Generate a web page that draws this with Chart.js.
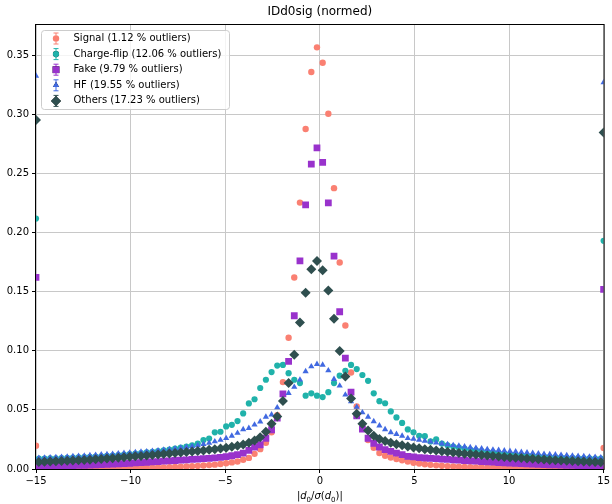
<!DOCTYPE html>
<html>
<head>
<meta charset="utf-8">
<title>IDd0sig (normed)</title>
<script src="https://cdn.jsdelivr.net/npm/chart.js@4.4.0/dist/chart.umd.min.js"></script>
<style>
    html, body { margin: 0; padding: 0; background: #fff; }
    #wrap { width: 612px; height: 504px; }
</style>
</head>
<body>
<div id="wrap"><canvas id="chartCanvas" width="612" height="504"></canvas></div>
<script>
// histogram bin centres (bin width 0.3 between -15 and 15)
const binCenters = [
    -14.85, -14.55, -14.25, -13.95, -13.65, -13.35, -13.05, -12.75, -12.45, -12.15,
    -11.85, -11.55, -11.25, -10.95, -10.65, -10.35, -10.05, -9.75, -9.45, -9.15,
    -8.85, -8.55, -8.25, -7.95, -7.65, -7.35, -7.05, -6.75, -6.45, -6.15,
    -5.85, -5.55, -5.25, -4.95, -4.65, -4.35, -4.05, -3.75, -3.45, -3.15,
    -2.85, -2.55, -2.25, -1.95, -1.65, -1.35, -1.05, -0.75, -0.45, -0.15,
    0.15, 0.45, 0.75, 1.05, 1.35, 1.65, 1.95, 2.25, 2.55, 2.85,
    3.15, 3.45, 3.75, 4.05, 4.35, 4.65, 4.95, 5.25, 5.55, 5.85,
    6.15, 6.45, 6.75, 7.05, 7.35, 7.65, 7.95, 8.25, 8.55, 8.85,
    9.15, 9.45, 9.75, 10.05, 10.35, 10.65, 10.95, 11.25, 11.55, 11.85,
    12.15, 12.45, 12.75, 13.05, 13.35, 13.65, 13.95, 14.25, 14.55, 14.85
];

// under/overflow points sit on the axis edges
const edgeX = [-15, 15];

const seriesNames = [
    'Signal (1.12 % outliers)',
    'Charge-flip (12.06 % outliers)',
    'Fake (9.79 % outliers)',
    'HF (19.55 % outliers)',
    'Others (17.23 % outliers)'
];

const signal = [
    0.0003, 0.0003, 0.0003, 0.0003, 0.0004, 0.0004, 0.0004, 0.0004, 0.0005, 0.0005,
    0.0005, 0.0006, 0.0006, 0.0006, 0.0007, 0.0007, 0.0008, 0.0009, 0.0010, 0.0011,
    0.0012, 0.0013, 0.0014, 0.0016, 0.0017, 0.0019, 0.0021, 0.0023, 0.0026, 0.0029,
    0.0033, 0.0037, 0.0042, 0.0049, 0.0056, 0.0064, 0.0078, 0.0094, 0.0128, 0.0168,
    0.0222, 0.0310, 0.0455, 0.0735, 0.1110, 0.1620, 0.2253, 0.2876, 0.3357, 0.3566,
    0.3436, 0.3005, 0.2375, 0.1746, 0.1214, 0.0816, 0.0530, 0.0345, 0.0245, 0.0180,
    0.0135, 0.0112, 0.0097, 0.0085, 0.0073, 0.0063, 0.0053, 0.0046, 0.0040, 0.0035,
    0.0031, 0.0027, 0.0024, 0.0021, 0.0019, 0.0017, 0.0015, 0.0014, 0.0013, 0.0012,
    0.0011, 0.0010, 0.0009, 0.0008, 0.0008, 0.0007, 0.0007, 0.0006, 0.0006, 0.0006,
    0.0005, 0.0005, 0.0005, 0.0004, 0.0004, 0.0004, 0.0004, 0.0003, 0.0003, 0.0003
];
const signalEdge = [0.0197, 0.0177];

const chargeFlip = [
    0.0088, 0.0089, 0.0090, 0.0091, 0.0093, 0.0094, 0.0096, 0.0098, 0.0100, 0.0102,
    0.0105, 0.0108, 0.0111, 0.0114, 0.0118, 0.0122, 0.0126, 0.0130, 0.0135, 0.0140,
    0.0146, 0.0152, 0.0158, 0.0165, 0.0172, 0.0180, 0.0190, 0.0200, 0.0215, 0.0245,
    0.0258, 0.0310, 0.0315, 0.0360, 0.0374, 0.0405, 0.0470, 0.0555, 0.0590, 0.0685,
    0.0755, 0.0820, 0.0875, 0.0880, 0.0810, 0.0755, 0.0727, 0.0620, 0.0640, 0.0620,
    0.0608, 0.0650, 0.0727, 0.0789, 0.0830, 0.0880, 0.0845, 0.0795, 0.0746, 0.0640,
    0.0574, 0.0556, 0.0487, 0.0436, 0.0390, 0.0335, 0.0310, 0.0281, 0.0278, 0.0233,
    0.0250, 0.0215, 0.0200, 0.0190, 0.0180, 0.0172, 0.0165, 0.0158, 0.0152, 0.0146,
    0.0140, 0.0135, 0.0130, 0.0126, 0.0122, 0.0118, 0.0114, 0.0111, 0.0108, 0.0105,
    0.0102, 0.0100, 0.0098, 0.0096, 0.0094, 0.0093, 0.0091, 0.0090, 0.0089, 0.0088
];
const chargeFlipEdge = [0.2118, 0.1930];

const fake = [
    0.0022, 0.0023, 0.0024, 0.0025, 0.0026, 0.0027, 0.0028, 0.0030, 0.0031, 0.0033,
    0.0035, 0.0037, 0.0039, 0.0041, 0.0043, 0.0046, 0.0048, 0.0051, 0.0054, 0.0057,
    0.0060, 0.0063, 0.0066, 0.0069, 0.0072, 0.0075, 0.0078, 0.0081, 0.0084, 0.0087,
    0.0090, 0.0094, 0.0098, 0.0105, 0.0112, 0.0121, 0.0135, 0.0157, 0.0186, 0.0205,
    0.0260, 0.0332, 0.0430, 0.0635, 0.0910, 0.1296, 0.1760, 0.2234, 0.2578, 0.2715,
    0.2594, 0.2250, 0.1800, 0.1330, 0.0938, 0.0650, 0.0450, 0.0338, 0.0260, 0.0217,
    0.0186, 0.0163, 0.0149, 0.0135, 0.0121, 0.0107, 0.0102, 0.0097, 0.0093, 0.0090,
    0.0087, 0.0084, 0.0081, 0.0078, 0.0075, 0.0072, 0.0069, 0.0066, 0.0063, 0.0060,
    0.0058, 0.0055, 0.0053, 0.0050, 0.0048, 0.0046, 0.0043, 0.0041, 0.0039, 0.0037,
    0.0035, 0.0034, 0.0032, 0.0031, 0.0030, 0.0029, 0.0028, 0.0027, 0.0026, 0.0025
];
const fakeEdge = [0.1620, 0.1520];

const hf = [
    0.0093, 0.0095, 0.0097, 0.0099, 0.0101, 0.0103, 0.0106, 0.0109, 0.0112, 0.0115,
    0.0118, 0.0121, 0.0124, 0.0127, 0.0131, 0.0134, 0.0137, 0.0140, 0.0144, 0.0148,
    0.0152, 0.0156, 0.0161, 0.0166, 0.0172, 0.0178, 0.0185, 0.0192, 0.0200, 0.0210,
    0.0220, 0.0232, 0.0245, 0.0260, 0.0280, 0.0304, 0.0335, 0.0346, 0.0374, 0.0400,
    0.0440, 0.0460, 0.0520, 0.0586, 0.0642, 0.0693, 0.0755, 0.0825, 0.0867, 0.0887,
    0.0880, 0.0833, 0.0760, 0.0704, 0.0628, 0.0571, 0.0524, 0.0478, 0.0440, 0.0402,
    0.0366, 0.0335, 0.0310, 0.0295, 0.0280, 0.0260, 0.0254, 0.0246, 0.0238, 0.0230,
    0.0222, 0.0215, 0.0208, 0.0201, 0.0195, 0.0189, 0.0183, 0.0177, 0.0172, 0.0167,
    0.0163, 0.0159, 0.0155, 0.0151, 0.0147, 0.0143, 0.0139, 0.0135, 0.0131, 0.0127,
    0.0124, 0.0121, 0.0118, 0.0115, 0.0112, 0.0109, 0.0106, 0.0103, 0.0100, 0.0097
];
const hfEdge = [0.3324, 0.3270];

const others = [
    0.0059, 0.0061, 0.0063, 0.0065, 0.0067, 0.0069, 0.0071, 0.0073, 0.0076, 0.0079,
    0.0082, 0.0085, 0.0088, 0.0091, 0.0095, 0.0099, 0.0103, 0.0107, 0.0111, 0.0115,
    0.0119, 0.0123, 0.0127, 0.0131, 0.0135, 0.0139, 0.0143, 0.0147, 0.0152, 0.0157,
    0.0162, 0.0167, 0.0173, 0.0180, 0.0188, 0.0197, 0.0208, 0.0222, 0.0240, 0.0268,
    0.0315, 0.0383, 0.0445, 0.0575, 0.0727, 0.0966, 0.1240, 0.1490, 0.1690, 0.1760,
    0.1680, 0.1510, 0.1270, 0.0997, 0.0783, 0.0597, 0.0467, 0.0383, 0.0326, 0.0281,
    0.0254, 0.0237, 0.0222, 0.0210, 0.0200, 0.0190, 0.0182, 0.0175, 0.0168, 0.0162,
    0.0156, 0.0150, 0.0145, 0.0140, 0.0135, 0.0130, 0.0126, 0.0122, 0.0118, 0.0114,
    0.0110, 0.0106, 0.0102, 0.0098, 0.0095, 0.0092, 0.0089, 0.0086, 0.0083, 0.0080,
    0.0077, 0.0075, 0.0072, 0.0070, 0.0068, 0.0066, 0.0064, 0.0062, 0.0060, 0.0058
];
const othersEdge = [0.2952, 0.2845];

const FONT = "'DejaVu Sans', sans-serif";
Chart.defaults.font.family = FONT;
Chart.defaults.font.size = 10;
Chart.defaults.color = '#000';

function makeSeries(label, values, edges, color, style, radius, order) {
    const points = binCenters.map((x, i) => ({ x: x, y: values[i] }));
    points.unshift({ x: edgeX[0], y: edges[0] });
    points.push({ x: edgeX[1], y: edges[1] });
    return {
        label: label,
        data: points,
        showLine: false,
        backgroundColor: color,
        borderColor: color,
        pointStyle: style,
        pointRadius: radius,
        pointBorderWidth: 0,
        order: order,
        clip: 0
    };
}

function minusSign(v) {
    return v < 0 ? '\u2212' + Math.abs(v) : String(v);
}

// frame, title, axis label and legend are drawn on top of the plot
const decorations = {
    id: 'decorations',
    afterDraw(chart) {
        const ctx = chart.ctx;
        const area = chart.chartArea;
        const cx = (area.left + area.right) / 2;

        ctx.save();
        ctx.strokeStyle = '#000';
        ctx.lineWidth = 1;
        ctx.strokeRect(area.left - 0.5, area.top - 0.5, area.right - area.left + 1, area.bottom - area.top + 1);

        ctx.fillStyle = '#000';
        ctx.font = '12px ' + FONT;
        ctx.textAlign = 'center';
        ctx.textBaseline = 'middle';
        ctx.fillText('IDd0sig (normed)', cx, 12);

        // |d0/sigma(d0)| with italic symbols and subscripts
        const parts = [
            ['|', '', 10, 0], ['d', 'italic ', 10, 0], ['0', '', 7, 2.5],
            ['/', '', 10, 0], ['\u03C3', 'italic ', 10, 0], ['(', '', 10, 0],
            ['d', 'italic ', 10, 0], ['0', '', 7, 2.5], [')|', '', 10, 0]
        ];
        let total = 0;
        parts.forEach(p => {
            ctx.font = p[1] + p[2] + 'px ' + FONT;
            total += ctx.measureText(p[0]).width;
        });
        let x = cx - total / 2;
        ctx.textAlign = 'left';
        ctx.textBaseline = 'alphabetic';
        parts.forEach(p => {
            ctx.font = p[1] + p[2] + 'px ' + FONT;
            ctx.fillText(p[0], x, 499 + p[3]);
            x += ctx.measureText(p[0]).width;
        });

        // legend box
        const lx = 41.5, ly = 30.5, lw = 188, lh = 79;
        ctx.beginPath();
        ctx.roundRect(lx, ly, lw, lh, 3);
        ctx.fillStyle = 'rgba(255,255,255,0.8)';
        ctx.fill();
        ctx.strokeStyle = '#cccccc';
        ctx.stroke();

        chart.data.datasets.forEach((ds, i) => {
            const my = 38.5 + i * 15.6;
            const mx = 56;
            ctx.strokeStyle = ds.borderColor;
            ctx.lineWidth = 1;
            ctx.beginPath();
            ctx.moveTo(mx, my - 5.5);
            ctx.lineTo(mx, my + 5.5);
            ctx.moveTo(mx - 2.5, my - 5.5);
            ctx.lineTo(mx + 2.5, my - 5.5);
            ctx.moveTo(mx - 2.5, my + 5.5);
            ctx.lineTo(mx + 2.5, my + 5.5);
            ctx.stroke();
            Chart.helpers.drawPoint(ctx, {
                pointStyle: ds.pointStyle,
                radius: ds.pointRadius,
                borderWidth: 0,
                rotation: 0
            }, mx, my);
            ctx.fillStyle = ds.backgroundColor;
            ctx.fill();

            ctx.fillStyle = '#000';
            ctx.font = '10px ' + FONT;
            ctx.textAlign = 'left';
            ctx.textBaseline = 'middle';
            ctx.fillText(ds.label, 73.5, my);
        });
        ctx.restore();
    }
};

const ctx = document.getElementById('chartCanvas').getContext('2d');

new Chart(ctx, {
    type: 'scatter',
    data: {
        datasets: [
            makeSeries(seriesNames[0], signal, signalEdge, '#FA8072', 'circle', 3.2, 5),
            makeSeries(seriesNames[1], chargeFlip, chargeFlipEdge, '#20B2AA', 'circle', 3.1, 4),
            makeSeries(seriesNames[2], fake, fakeEdge, '#9932CC', 'rect', 4.8, 3),
            makeSeries(seriesNames[3], hf, hfEdge, '#4169E1', 'triangle', 3.6, 2),
            makeSeries(seriesNames[4], others, othersEdge, '#2F4F4F', 'rectRot', 5, 1)
        ]
    },
    options: {
        responsive: false,
        devicePixelRatio: 1,
        animation: false,
        layout: { padding: { top: 25, right: 7, bottom: 0, left: 0 } },
        plugins: {
            legend: { display: false },
            title: { display: false },
            tooltip: { enabled: false }
        },
        scales: {
            x: {
                type: 'linear',
                min: -15,
                max: 15,
                border: { display: false },
                grid: { color: '#c8c8c8', lineWidth: 1, tickLength: 4, tickColor: '#000' },
                ticks: { stepSize: 5, padding: 2, color: '#000', maxRotation: 0, callback: v => minusSign(v) },
                afterFit: s => { s.height = 35; }
            },
            y: {
                type: 'linear',
                min: 0,
                max: 0.3755,
                border: { display: false },
                grid: { color: '#c8c8c8', lineWidth: 1, tickLength: 4, tickColor: '#000' },
                ticks: { stepSize: 0.05, includeBounds: false, padding: 3, color: '#000', callback: v => v.toFixed(2) },
                afterFit: s => { s.width = 36; }
            }
        }
    },
    plugins: [decorations]
});
</script>
</body>
</html>
